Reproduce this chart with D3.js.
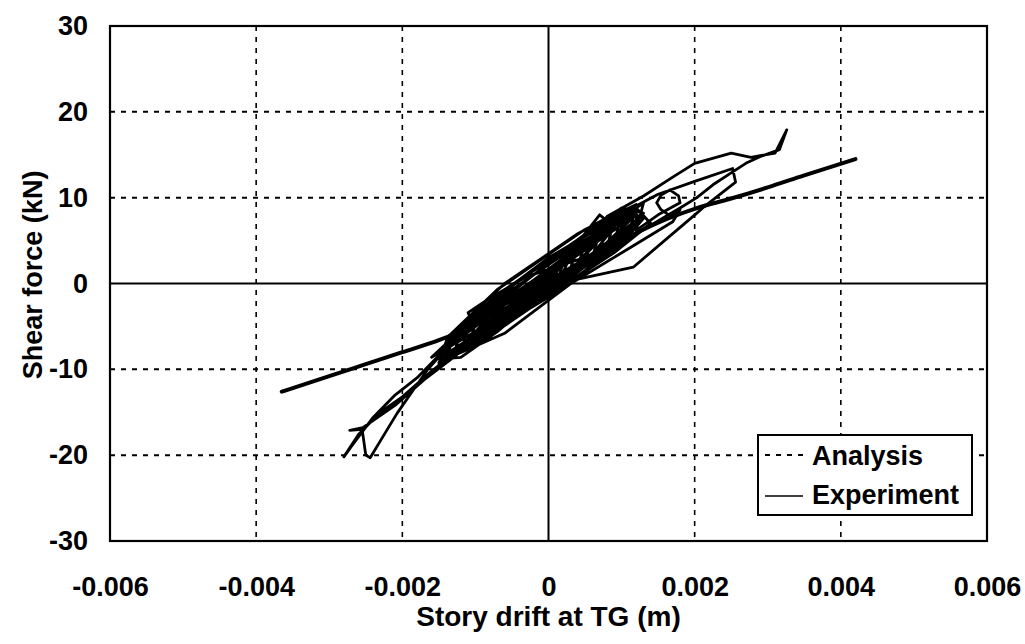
<!DOCTYPE html>
<html>
<head>
<meta charset="utf-8">
<script src="https://cdn.jsdelivr.net/npm/d3@7.9.0/dist/d3.min.js"></script>
<style>
  body { margin: 0; background: #fff; }
  svg text { font-family: "Liberation Sans", Arial, sans-serif; font-weight: bold; fill: #000; }
</style>
</head>
<body>
<svg id="chart" width="1025" height="644"></svg>
<script>
// axis ticks and labels
const xTicks = [-0.006, -0.004, -0.002, 0, 0.002, 0.004, 0.006];
const xTickLabels = ["-0.006", "-0.004", "-0.002", "0", "0.002", "0.004", "0.006"];
const yTicks = [-30, -20, -10, 0, 10, 20, 30];
const yTickLabels = ["-30", "-20", "-10", "0", "10", "20", "30"];

// analysis curve: [story drift (m), shear force (kN)]
const analysis = [
  [-0.00365, -12.6], [-0.0030, -10.8], [-0.0025, -9.4], [-0.0020, -8.0],
  [-0.0015, -6.6], [-0.0010, -4.8], [-0.0005, -2.5], [0, 0],
  [0.0005, 2.6], [0.0010, 5.0], [0.0015, 7.1], [0.0020, 8.7],
  [0.0025, 9.9], [0.0030, 11.2], [0.0035, 12.6], [0.0042, 14.5]
];

// experiment hysteresis: [story drift (m), shear force (kN)]
const experiment = [
  [0, 0], [0.0002, 2.4], [0.00015, 1.0], [-0.0002, -1.6], [-0.00015, -0.2],
  [0.0003, 3.2], [0.0002, 1.3], [-0.0003, -2.3], [-0.0002, -0.6],
  [0.0004, 4.0], [0.0003, 1.8], [-0.0004, -2.9], [-0.0003, -0.9],
  [0.0005, 4.5], [0.0004, 2.1], [-0.0005, -3.6], [-0.0004, -1.3],
  [0.0006, 5.2], [0.0005, 2.5], [-0.0006, -4.3], [-0.0005, -1.7],
  [0.0002, 2.6], [0.0007, 8.0], [0.0008, 7.3], [0.0006, 4.2], [0.0002, 0.6],
  [-0.0007, -5.0], [-0.0006, -2.2], [0.0007, 6.0], [0.0006, 3.0],
  [-0.0008, -5.8], [-0.0007, -2.8], [0.0008, 6.8], [0.0007, 3.6],
  [-0.0003, 0.8], [-0.00084, -1.9], [-0.0011, -3.4], [-0.00105, -4.4], [-0.0007, -2.7],
  [-0.0009, -6.3], [-0.0008, -3.4], [0.0009, 7.4], [0.0008, 4.2],
  [-0.0010, -7.0], [-0.0009, -4.0], [0.0010, 8.0], [0.0009, 4.8],
  [-0.0014, -6.4], [-0.0007, -0.7], [0.0005, 6.3], [0.0012, 9.2],
  [0.0012, 6.8], [0.0005, 1.5], [-0.0007, -5.5], [-0.0014, -8.8],
  [-0.0014, -6.7], [-0.0007, -1.3], [0.0005, 5.7], [0.0012, 8.9],
  [0.0012, 7.1], [0.0005, 2.1], [-0.0007, -4.9], [-0.0014, -8.5],
  [-0.0014, -7.0], [-0.0007, -1.9], [0.0005, 5.1], [0.0012, 8.6],
  [0.0012, 7.4], [0.0005, 2.7], [-0.0007, -4.3], [-0.0014, -8.2],
  [-0.0014, -7.3], [-0.0007, -2.5], [0.0005, 4.5], [0.0012, 8.3],
  [0.0012, 8.0], [0.0005, 3.9], [-0.0007, -3.1], [-0.0014, -7.6],
  [-0.0013, -5.6], [-0.0006, 0.0], [0.0004, 5.8], [0.0010, 8.6],
  [0.0010, 5.0], [0.0004, 0.6], [-0.0006, -5.8], [-0.0013, -8.4],
  [0.0003, 1.0], [-0.0004, -2.2], [-0.0009, -5.2], [-0.0013, -7.9], [-0.0011, -7.6],
  [-0.0006, -4.4], [0, -1.2], [0.0005, 1.4], [0.0010, 4.6], [0.0013, 7.6],
  [0.0011, 8.4], [0.0006, 6.0], [0, 3.0], [-0.0005, -0.2], [-0.0010, -3.6],
  [-0.0014, -6.8], [-0.0015, -8.8], [-0.0012, -8.6], [-0.0007, -5.6], [-0.0002, -2.0],
  [0.0004, 0.8], [0.0009, 3.6], [0.0014, 7.0], [0.0012, 8.8], [0.0007, 6.8],
  [0.0002, 3.6], [-0.0003, 0.4], [-0.0008, -2.8], [-0.0013, -6.2], [-0.0016, -8.6],
  [-0.0004, -2.6], [-0.0012, -7.6], [-0.0016, -10.2], [-0.0020, -13.2], [-0.0023, -15.0],
  [-0.0026, -17.6], [-0.0028, -20.2], [-0.0027, -19.0], [-0.0024, -15.6], [-0.0021, -13.0],
  [-0.0018, -11.0], [-0.0015, -8.4], [-0.0010, -4.6], [-0.0002, 0.0],
  [0.0011, 8.6], [0.0010, 5.4], [-0.0011, -7.6], [-0.0010, -4.6],
  [-0.0005, -1.0], [0, 2.4], [0.0005, 5.0], [0.0010, 7.6], [0.0012, 8.0],
  [0.0008, 4.8], [0.0003, 1.6], [-0.0002, -1.6], [-0.0007, -4.9], [-0.0011, -6.4],
  [0.0004, 3.6], [0.0008, 7.8], [0.0013, 10.2], [0.0017, 12.4], [0.0020, 14.0],
  [0.0025, 15.2], [0.00277, 14.7], [0.0031, 15.2], [0.00326, 17.9], [0.00316, 15.6],
  [0.0029, 14.8], [0.0027, 14.0], [0.00252, 13.0], [0.00225, 11.5], [0.00203, 10.0],
  [0.0018, 8.8], [0.0014, 6.8], [0.0009, 4.2], [0.0003, 1.2],
  [-0.0012, -8.0], [-0.0011, -5.2], [0.0012, 9.0], [0.0011, 5.8],
  [0.0006, 2.6], [0.0001, -0.6], [-0.0004, -3.4], [-0.0009, -6.6], [-0.0012, -7.4],
  [-0.0008, -3.8], [-0.0003, -0.4], [0.0002, 2.8], [0.0007, 5.8], [0.0012, 9.2],
  [-0.0006, -3.6], [-0.0013, -8.6], [-0.0017, -11.2], [-0.0021, -14.2], [-0.00254, -16.8],
  [-0.00272, -17.1], [-0.00255, -17.0], [-0.0025, -20.0], [-0.00244, -20.3], [-0.00222, -17.2],
  [-0.00207, -15.1], [-0.00185, -12.4], [-0.00166, -10.1], [-0.0014, -7.6], [-0.0009, -3.6],
  [-0.0001, 0.6],
  [0.0006, 5.2], [0.0011, 8.6], [0.0015, 10.4], [0.0020, 11.9], [0.00252, 13.4],
  [0.00256, 11.8], [0.00211, 8.8], [0.00203, 8.2], [0.00116, 1.9], [0.00034, 0.4], [-0.0003, -1.8],
  [-0.0013, -8.4], [-0.0012, -5.6], [0.0013, 9.4], [0.0012, 6.2],
  [0.0015, 8.0], [0.0018, 9.4], [0.00178, 10.2], [0.00166, 10.9], [0.00154, 10.3],
  [0.00148, 9.4], [0.00154, 8.6], [0.00166, 7.9], [0.0018, 8.6], [0.0017, 7.2], [0.0012, 4.6],
  [-0.0014, -8.8], [-0.0013, -6.2], [0.0009, 6.6], [0.0006, 3.4],
  [0.0001, 0.2], [-0.0005, -3.0], [-0.0010, -6.0], [-0.0015, -9.4], [-0.0014, -7.0],
  [-0.0009, -3.2], [-0.0004, 0.4], [0.0001, 3.2], [0.0006, 6.4], [0.0010, 8.8],
  [0.0013, 8.2], [0.0009, 5.0], [0.0004, 1.8], [-0.0001, -1.4], [-0.0006, -4.2],
  [-0.0015, -9.2], [-0.0013, -6.8], [0.0007, 5.4], [0.0004, 2.4], [-0.0003, -1.2], [0, 0.6]
];

const legendItems = ["Analysis", "Experiment"];

const svg = d3.select("#chart");
const margin = { top: 26, right: 38, bottom: 103, left: 110 };
const width = 1025 - margin.left - margin.right;
const height = 644 - margin.top - margin.bottom;

const x = d3.scaleLinear().domain([-0.006, 0.006]).range([0, width]);
const y = d3.scaleLinear().domain([-30, 30]).range([height, 0]);

const g = svg.append("g").attr("transform", `translate(${margin.left},${margin.top})`);

// grid lines (dashed), zero lines solid
g.selectAll(".vgrid")
  .data(xTicks.filter(d => d !== 0 && Math.abs(d) < 0.006))
  .enter().append("line")
  .attr("x1", d => x(d)).attr("x2", d => x(d))
  .attr("y1", 0).attr("y2", height)
  .attr("stroke", "#000").attr("stroke-width", 1.6)
  .attr("stroke-dasharray", "5,6");

g.selectAll(".hgrid")
  .data(yTicks.filter(d => d !== 0 && Math.abs(d) < 30))
  .enter().append("line")
  .attr("x1", 0).attr("x2", width)
  .attr("y1", d => y(d)).attr("y2", d => y(d))
  .attr("stroke", "#000").attr("stroke-width", 2)
  .attr("stroke-dasharray", "5,6");

g.append("line").attr("x1", x(0)).attr("x2", x(0)).attr("y1", 0).attr("y2", height)
  .attr("stroke", "#000").attr("stroke-width", 2);
g.append("line").attr("x1", 0).attr("x2", width).attr("y1", y(0)).attr("y2", y(0))
  .attr("stroke", "#000").attr("stroke-width", 2);

// data lines
const line = d3.line().x(d => x(d[0])).y(d => y(d[1]));

g.append("path").datum(experiment)
  .attr("d", line)
  .attr("fill", "none").attr("stroke", "#000")
  .attr("stroke-width", 2.8).attr("stroke-linejoin", "round");

g.append("path").datum(analysis)
  .attr("d", line.curve(d3.curveMonotoneX))
  .attr("fill", "none").attr("stroke", "#000")
  .attr("stroke-width", 4).attr("stroke-linecap", "round");

// frame
g.append("rect").attr("width", width).attr("height", height)
  .attr("fill", "none").attr("stroke", "#000").attr("stroke-width", 2.2);

// axes
const xAxis = g.append("g").attr("transform", `translate(0,${height})`)
  .call(d3.axisBottom(x).tickValues(xTicks).tickSize(0).tickPadding(36)
    .tickFormat((d, i) => xTickLabels[i]));
const yAxis = g.append("g")
  .call(d3.axisLeft(y).tickValues(yTicks).tickSize(0).tickPadding(22)
    .tickFormat((d, i) => yTickLabels[i]));
[xAxis, yAxis].forEach(a => {
  a.select(".domain").remove();
  a.selectAll("text").attr("font-size", 27)
    .attr("font-family", "Liberation Sans, Arial, sans-serif").attr("font-weight", "bold");
});

// axis titles
svg.append("text")
  .attr("x", margin.left + x(0)).attr("y", 626)
  .attr("text-anchor", "middle").attr("font-size", 28)
  .text("Story drift at TG (m)");
svg.append("text")
  .attr("transform", `translate(42,${margin.top + y(1)}) rotate(-90)`)
  .attr("text-anchor", "middle").attr("font-size", 27)
  .text("Shear force (kN)");

// legend
const legend = svg.append("g").attr("transform", "translate(758,435)");
legend.append("rect").attr("width", 214).attr("height", 80)
  .attr("fill", "#fff").attr("stroke", "#000").attr("stroke-width", 2);
legendItems.forEach((name, i) => {
  const ly = i === 0 ? 20 : 61;
  legend.append("line")
    .attr("x1", 7).attr("x2", 45).attr("y1", ly).attr("y2", ly)
    .attr("stroke", "#000").attr("stroke-width", i === 0 ? 2 : 1.6)
    .attr("stroke-dasharray", i === 0 ? "5,6" : null);
  legend.append("text")
    .attr("x", 54).attr("y", i === 0 ? 30 : 69)
    .attr("font-size", 27)
    .text(name);
});
</script>
</body>
</html>
